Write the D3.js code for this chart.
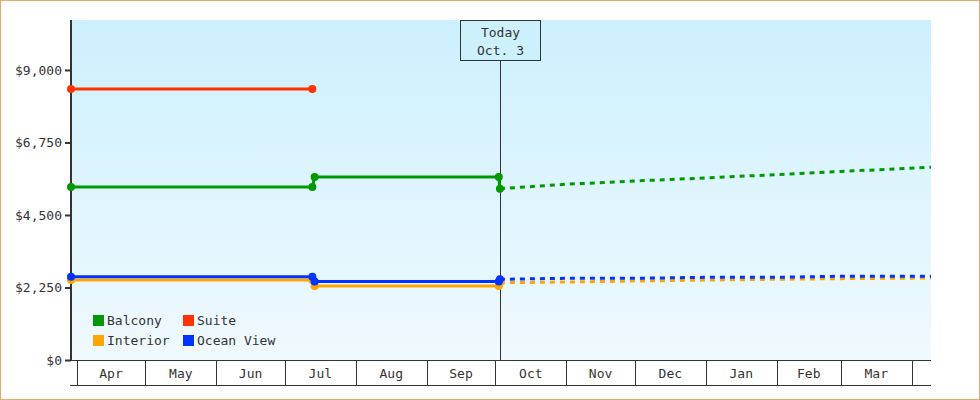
<!DOCTYPE html>
<html>
<head>
<meta charset="utf-8">
<script src="https://cdn.jsdelivr.net/npm/d3@7"></script>
<style>
html,body{margin:0;padding:0;background:#fff;}
svg{display:block;}
text{font-family:"DejaVu Sans Mono",monospace;font-size:13px;fill:#333;}
</style>
</head>
<body>
<svg id="chart" width="980" height="400"></svg>
<script>
// ---------- data ----------
const seriesNames = ["Balcony", "Suite", "Interior", "Ocean View"];
const seriesColors = ["#009900", "#ff3300", "#ffa500", "#0033ff"];
const xDomain = ["2012-03-29T12:00", "2013-04-09T10:30"];
const actualDates = ["2012-03-29T12:00", "2012-07-13T00:00", "2012-07-14T00:00", "2012-10-02T12:00", "2012-10-03T00:00"];
const balconyActual = [5369, 5369, 5679, 5679, 5316];
const suiteActual = [8410, 8410];
const interiorActual = [2483, 2483, 2297, 2297, 2399];
const oceanActual = [2585, 2585, 2436, 2436, 2504];
const forecastDates = ["2012-10-03T00:00", "2012-11-01T00:00", "2012-12-01T00:00", "2013-01-01T00:00", "2013-02-01T00:00", "2013-03-01T00:00", "2013-04-09T10:30"];
const balconyForecast = [5316, 5453, 5555, 5648, 5754, 5850, 5980];
const interiorForecast = [2399, 2420, 2450, 2480, 2505, 2525, 2545];
const oceanForecast = [2504, 2535, 2535, 2566, 2566, 2598, 2598];
const yTicks = [0, 2250, 4500, 6750, 9000];
const yMax = 10550;
const todayDate = "2012-10-03T00:00";
const todayLabel = ["Today", "Oct. 3"];

// ---------- setup ----------
const parse = d3.timeParse("%Y-%m-%dT%H:%M");
const W = 980, H = 400;
const m = {left: 71, right: 49, top: 20, bottom: 40};
const svg = d3.select("#chart");

const x = d3.scaleTime().domain(xDomain.map(parse)).range([m.left, W - m.right]);
const y = d3.scaleLinear().domain([0, yMax]).range([H - m.bottom, m.top]);

// outer border
svg.append("rect").attr("x", 0.5).attr("y", 0.5).attr("width", W - 1).attr("height", H - 1)
  .attr("fill", "#fff").attr("stroke", "#eba862").attr("stroke-width", 1);

// plot background gradient
const defs = svg.append("defs");
const grad = defs.append("linearGradient").attr("id", "bg").attr("x1", 0).attr("y1", 0).attr("x2", 0).attr("y2", 1);
grad.append("stop").attr("offset", "0%").attr("stop-color", "#ccf0fd");
grad.append("stop").attr("offset", "100%").attr("stop-color", "#f0f9fe");
svg.append("rect").attr("x", m.left).attr("y", m.top)
  .attr("width", W - m.right - m.left).attr("height", H - m.bottom - m.top)
  .attr("fill", "url(#bg)");

// x axis: month boxes
const [d0, d1] = x.domain();
const monthStarts = d3.timeMonths(d0, d1);
const axisTop = H - m.bottom, axisBot = axisTop + 25;
const xg = svg.append("g");
xg.append("line").attr("x1", m.left).attr("x2", W - m.right).attr("y1", axisTop + 0.5).attr("y2", axisTop + 0.5)
  .attr("stroke", "#333").attr("stroke-width", 1);
xg.append("line").attr("x1", m.left - 1).attr("x2", W - m.right).attr("y1", axisBot + 0.5).attr("y2", axisBot + 0.5)
  .attr("stroke", "#333").attr("stroke-width", 1);
xg.selectAll("line.sep").data(monthStarts).join("line").attr("class", "sep")
  .attr("x1", d => Math.round(x(d)) + 0.5).attr("x2", d => Math.round(x(d)) + 0.5)
  .attr("y1", axisTop).attr("y2", axisBot)
  .attr("stroke", "#333").attr("stroke-width", 1);
const fmtMonth = d3.timeFormat("%b");
xg.selectAll("text").data(monthStarts.slice(0, -1)).join("text")
  .attr("x", d => (x(d) + x(d3.timeMonth.offset(d, 1))) / 2)
  .attr("y", axisTop + 17.5)
  .attr("text-anchor", "middle")
  .text(d => fmtMonth(d));

// y axis
const yAxis = d3.axisLeft(y).tickValues(yTicks).tickSize(6).tickPadding(3)
  .tickFormat(d => "$" + d3.format(",")(d));
const yg = svg.append("g").attr("transform", `translate(${m.left},0)`).call(yAxis);
yg.select(".domain").remove();
yg.selectAll(".tick line").attr("stroke", "#333").attr("stroke-width", 2);
yg.selectAll(".tick text").attr("font-family", "DejaVu Sans Mono").attr("font-size", 13).attr("fill", "#333");
svg.append("line").attr("x1", m.left).attr("x2", m.left).attr("y1", m.top).attr("y2", axisTop + 1)
  .attr("stroke", "#333").attr("stroke-width", 2);

// today marker
const tx = Math.round(x(parse(todayDate))) + 0.5;
svg.append("line").attr("x1", tx).attr("x2", tx).attr("y1", m.top + 40).attr("y2", axisTop)
  .attr("stroke", "#333").attr("stroke-width", 1);
svg.append("rect").attr("x", tx - 40).attr("y", m.top + 0.5).attr("width", 80).attr("height", 40)
  .attr("fill", "#cdf0fd").attr("stroke", "#333").attr("stroke-width", 1);
svg.append("text").attr("x", tx).attr("y", m.top + 17).attr("text-anchor", "middle").text(todayLabel[0]);
svg.append("text").attr("x", tx).attr("y", m.top + 35).attr("text-anchor", "middle").text(todayLabel[1]);

// series
const actual = [balconyActual, suiteActual, interiorActual, oceanActual];
const forecast = [balconyForecast, null, interiorForecast, oceanForecast];
const line = d3.line().x(d => x(d.date)).y(d => y(d.value));
const plotG = svg.append("g");
seriesNames.forEach((name, i) => {
  const pts = actual[i].map((v, j) => ({date: parse(actualDates[j]), value: v}));
  const g = plotG.append("g");
  if (forecast[i]) {
    const fpts = forecast[i].map((v, j) => ({date: parse(forecastDates[j]), value: v}));
    g.append("path").datum(fpts).attr("d", line).attr("fill", "none")
      .attr("stroke", seriesColors[i]).attr("stroke-width", 3).attr("stroke-dasharray", "5,5");
  }
  g.append("path").datum(pts).attr("d", line).attr("fill", "none")
    .attr("stroke", seriesColors[i]).attr("stroke-width", 3);
  g.selectAll("circle").data(pts).join("circle")
    .attr("cx", d => x(d.date)).attr("cy", d => y(d.value)).attr("r", 4)
    .attr("fill", seriesColors[i]);
});

// legend
const lg = svg.append("g");
seriesNames.forEach((name, i) => {
  const col = i % 2, row = Math.floor(i / 2);
  const lx = 93 + col * 90, ly = 315 + row * 20;
  lg.append("rect").attr("x", lx).attr("y", ly).attr("width", 11).attr("height", 11).attr("fill", seriesColors[i]);
  lg.append("text").attr("x", lx + 14).attr("y", ly + 10).text(name);
});
</script>
</body>
</html>
